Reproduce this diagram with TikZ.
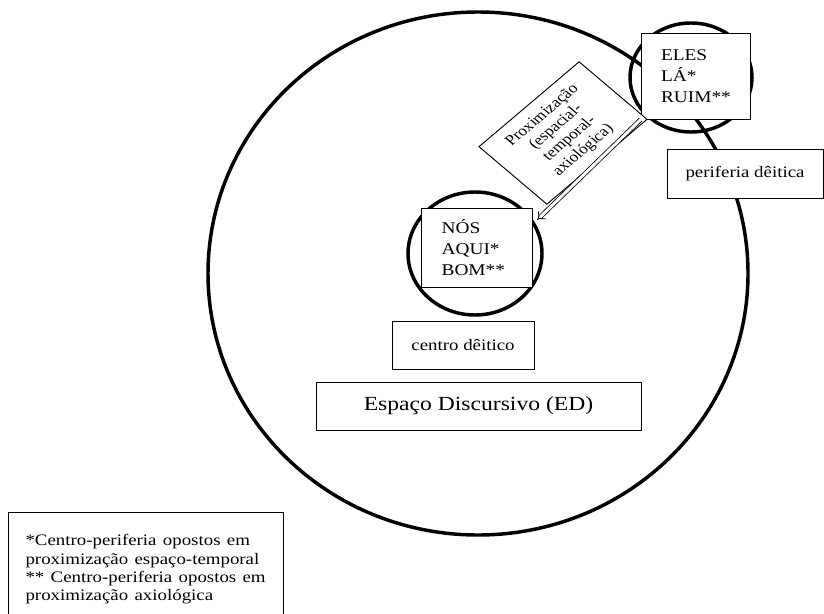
\documentclass[tikz,border=0pt]{standalone}
\usepackage{fontspec}
\setmainfont{Liberation Serif}
\usetikzlibrary{arrows.meta,shapes.geometric}
\newcommand\hx[1]{#1*0.63559pt}
\newcommand\vy[1]{#1*0.75pt}
\begin{document}
\begin{tikzpicture}[x=0.63559pt,y=-0.75pt,xscale=1.18,transform shape,
  ring/.style={draw,ellipse,line width=2.6pt,inner sep=0pt},
  box/.style={draw,rectangle,fill=white,line width=0.7pt,inner sep=0pt,
    font=\fontsize{12}{13.8}\selectfont},
  stack/.style={box,align=left,inner xsep=12.6pt,font=\fontsize{12.3}{15.5}\selectfont},
  link/.style={line width=0.6pt,double,double distance=2.2pt,-{Implies}}]
\useasboundingbox (0,0) rectangle (824,613);
% rings
\node[ring,minimum width={\hx{540}},minimum height={\vy{523}}] (ed) at (478,273.5) {};
\node[ring,minimum width={\hx{122}},minimum height={\vy{109}}] (elesring) at (691,77.5) {};
\node[ring,minimum width={\hx{134}},minimum height={\vy{123}}] (nosring) at (475,253.5) {};
% boxes
\node[stack,text width=44.5pt,minimum height={\vy{86}}] (eles) at (696,76) {ELES\\LÁ*\\RUIM**};
\node[stack,text width=45pt,minimum height={\vy{79}}] (nos) at (477,247.5) {NÓS\\AQUI*\\BOM**};
\node[box,minimum width={\hx{156}},minimum height={\vy{49}}] (per) at (745,173.5) {periferia dêitica};
\node[box,minimum width={\hx{142}},minimum height={\vy{48}}] (centro) at (463,345) {centro dêitico};
\node[box,minimum width={\hx{325}},minimum height={\vy{48}},font=\fontsize{15}{18}\selectfont] (espaco) at (478.5,406) {Espaço Discursivo (ED)};
\node[box,anchor=north west,inner xsep=10.8pt,text width=153.2pt,align=left,minimum height={\vy{114}}] (nota) at (8,512)
  {*Centro-periferia opostos em\\proximização espaço-temporal\\{}** Centro-periferia opostos em\\proximização axiológica};
\node[box,rotate=45,minimum width=90pt,minimum height=61pt,align=center,font=\fontsize{11}{12.3}\selectfont] (prox) at (563,133)
  {Proximização\\(espacial-\\temporal-\\axiológica)};
% arrow
\coordinate (tip) at (537,220);
\draw[link] (eles.south west) -- (tip);
\end{tikzpicture}
\end{document}
